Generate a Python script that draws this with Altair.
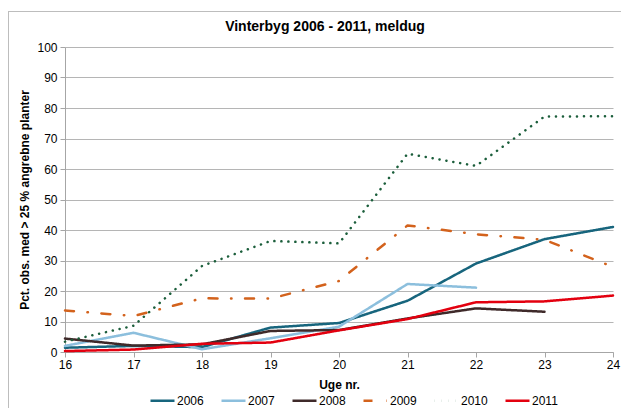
import altair as alt
import pandas as pd

weeks = [16, 17, 18, 19, 20, 21, 22, 23, 24]
years = ["2006", "2007", "2008", "2009", "2010", "2011"]
v2006 = [1.4, 2.0, 1.6, 8.0, 9.5, 16.8, 29.0, 37.0, 41.0]
v2007 = [2.0, 6.3, 0.9, 4.5, 8.3, 22.3, 21.1, None, None]
v2008 = [4.4, 2.1, 2.5, 6.9, 7.2, 11.0, 14.3, 13.2, None]
v2009 = [13.6, 11.8, 17.6, 17.5, 23.3, 41.5, 38.6, 36.8, 27.9]
v2010 = [3.4, 8.6, 28.2, 36.4, 35.6, 65.0, 61.0, 77.2, 77.3]
v2011 = [0.3, 0.8, 2.7, 3.1, 7.1, 10.8, 16.3, 16.6, 18.5]
series = [v2006, v2007, v2008, v2009, v2010, v2011]
title_text = "Vinterbyg 2006 - 2011, meldug"

colors = ["#17657d", "#8cbfdd", "#3f2a2a", "#d3621c", "#1b5e3b", "#e3000f"]
dashes = [[1, 0], [1, 0], [1, 0], [9, 13.5, 0.5, 13.5], [0.1, 6.9], [1, 0]]
widths = [2.5, 2.5, 2.2, 3.2, 3.8, 4.0]

rows = []
for y, vals in zip(years, series):
    for w, v in zip(weeks, vals):
        if v is not None:
            rows.append({"Uge": w, "Pct": v, "Aar": y})
df = pd.DataFrame(rows)

font = "Liberation Sans"

legend = alt.Legend(
    title=None, orient="none", direction="horizontal", legendX=84, legendY=340,
    symbolType="stroke", symbolSize=576, labelFontSize=12, labelFont=font,
    labelColor="#000000", columnPadding=12, labelOffset=1, padding=0,
)

lines = alt.Chart(df).mark_line(interpolate="linear", strokeCap="round", strokeJoin="round").encode(
    x=alt.X("Uge:Q", scale=alt.Scale(domain=[16, 24], nice=False),
            axis=alt.Axis(values=weeks, format="d", title="Uge nr.", grid=False,
                          labelFlush=False, tickSize=5, labelPadding=2, titlePadding=9)),
    y=alt.Y("Pct:Q", scale=alt.Scale(domain=[0, 100], nice=False),
            axis=alt.Axis(values=list(range(0, 101, 10)),
                          title="Pct. obs. med > 25 % angrebne planter",
                          grid=True, tickSize=5, labelPadding=3, titlePadding=5)),
    color=alt.Color("Aar:N", scale=alt.Scale(domain=years, range=colors), legend=legend),
    strokeDash=alt.StrokeDash("Aar:N", scale=alt.Scale(domain=years, range=dashes), legend=legend),
    strokeWidth=alt.StrokeWidth("Aar:N", scale=alt.Scale(domain=years, range=widths), legend=legend),
    order=alt.Order("Uge:Q"),
)

one = pd.DataFrame({"a": [0]})
frame_top = alt.Chart(one).mark_rule(stroke="#bdbdbd", strokeWidth=1).encode(
    x=alt.value(-57), x2=alt.value(600), y=alt.value(-35.5)
)
frame_left = alt.Chart(one).mark_rule(stroke="#bdbdbd", strokeWidth=1).encode(
    x=alt.value(-56.5), y=alt.value(-36), y2=alt.value(400)
)
title = alt.Chart(pd.DataFrame({"t": [title_text]})).mark_text(
    font=font, fontSize=14, fontWeight="bold", color="#000000",
    align="center", baseline="middle"
).encode(x=alt.value(260), y=alt.value(-20), text="t:N")

chart = alt.layer(frame_top, frame_left, title, lines).properties(
    width=548, height=305,
    autosize=alt.AutoSizeParams(type="none"),
    padding={"left": 57, "top": 39, "right": 8, "bottom": 56},
).configure_view(stroke=None).configure_axis(
    labelFont=font, labelFontSize=12, labelColor="#000000",
    titleFont=font, titleFontSize=12, titleFontWeight="bold", titleColor="#000000",
    domainColor="#a6a6a6", tickColor="#a6a6a6", gridColor="#b5b5b5",
)

chart.save("out.html", embed_options={"renderer": "svg", "actions": False})
